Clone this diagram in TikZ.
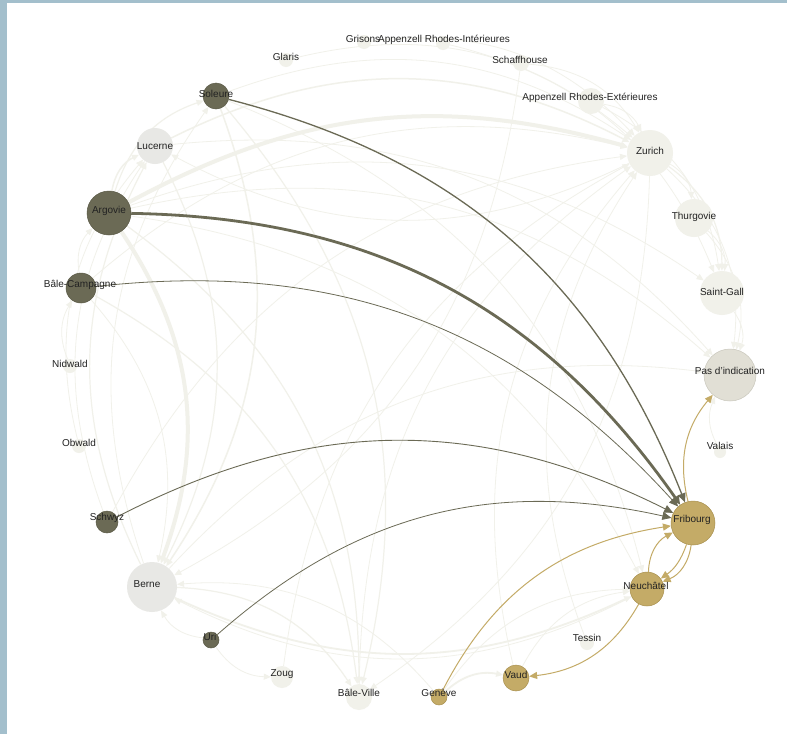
\documentclass[tikz,border=0pt]{standalone}
\usepackage{fontspec}
\setmainfont{Liberation Sans}
\usetikzlibrary{arrows.meta}
\definecolor{frame}{HTML}{A3BFCC}
\definecolor{dark}{HTML}{6B6A55}
\definecolor{darkline}{HTML}{5A5946}
\definecolor{gold}{HTML}{C4AB67}
\definecolor{goldline}{HTML}{A8904F}
\definecolor{faint}{HTML}{F1F1EA}
\definecolor{pale}{HTML}{F1F1EA}
\definecolor{grayn}{HTML}{E8E8E5}
\definecolor{pdicol}{HTML}{E1DFD5}
\definecolor{pdiline}{HTML}{C9C7BC}
\definecolor{labelcol}{HTML}{222222}
\pgfdeclarelayer{bottom}
\pgfdeclarelayer{links}
\pgfdeclarelayer{top}
\pgfsetlayers{bottom,links,main,top}
\tikzset{
  cnode/.style={circle, inner sep=0pt, minimum size=#1},
  dnode/.style={cnode=#1, fill=dark, draw=darkline, line width=0.5pt},
  gnode/.style={cnode=#1, fill=gold, draw=goldline, line width=0.5pt},
  lnode/.style={cnode=#1, fill=grayn},
  pnode/.style={cnode=#1, fill=pale},
  lab/.style={font=\fontsize{10}{12}\selectfont, text=labelcol, inner sep=0pt},
  flink/.style={draw=faint, line width=#1, -{Triangle[length=7pt,width=6pt]}},
  dlink/.style={draw=dark, line width=#1, -{Triangle[length=9pt,width=8pt]}},
  glink/.style={draw=gold, line width=#1, -{Triangle[length=8pt,width=7pt]}},
}
\begin{document}
\begin{tikzpicture}[x=1pt,y=-1pt]
\begin{pgfonlayer}{bottom}
\fill[frame] (0,0) rectangle (787,734);
\fill[white] (7,3) rectangle (787,734);
\end{pgfonlayer}
\useasboundingbox (0,0) rectangle (787,734);
% nodes
\node[pnode=14] (gri) at (364,42) {};
\node[pnode=14] (ari) at (443,43) {};
\node[pnode=14] (gla) at (286,60) {};
\node[pnode=16] (sch) at (521,63) {};
\node[pnode=26] (are) at (591,101) {};
\node[pnode=46] (zur) at (650,153) {};
\node[pnode=38] (thu) at (694,218) {};
\node[pnode=44] (sga) at (722,293) {};
\node[cnode=52, fill=pdicol, draw=pdiline, line width=0.5pt] (pdi) at (730,375) {};
\node[pnode=12] (val) at (720,452) {};
\node[gnode=44] (fri) at (693,523) {};
\node[gnode=34] (neu) at (647,589) {};
\node[pnode=14] (tes) at (587,643) {};
\node[gnode=26] (vau) at (516,678) {};
\node[gnode=16] (gen) at (439,697) {};
\node[pnode=26] (bvi) at (359,697) {};
\node[pnode=22] (zou) at (282,677) {};
\node[dnode=16] (uri) at (211,640) {};
\node[lnode=50] (ber) at (152,587) {};
\node[dnode=22] (szw) at (107,522) {};
\node[pnode=14] (obw) at (79,446) {};
\node[pnode=14] (nid) at (70,366) {};
\node[dnode=30] (bca) at (81,288) {};
\node[dnode=44] (arg) at (109,213) {};
\node[lnode=36] (luc) at (155,146) {};
\node[dnode=26] (sol) at (216,96) {};
% faint links
\begin{pgfonlayer}{links}
\draw[flink=4] (arg) to[bend left=22] (zur);
\draw[flink=4] (arg) to[bend left=27] (ber);
\draw[flink=1.5] (arg) to[bend left=27] (luc);
\draw[flink=1.2] (arg) to[bend left=27] (sol);
\draw[flink=1.2] (arg) to[bend left=27] (bvi);
\draw[flink=0.8] (arg) to[bend left=27] (sga);
\draw[flink=0.8] (arg) to[bend left=27] (pdi);
\draw[flink=0.8] (arg) to[bend left=27] (neu);
\draw[flink=1.5] (luc) to[bend left=27] (zur);
\draw[flink=1.2] (luc) to[bend left=27] (ber);
\draw[flink=0.8] (luc) to[bend left=27] (pdi);
\draw[flink=1.5] (sol) to[bend left=27] (ber);
\draw[flink=0.8] (sol) to[bend left=27] (zur);
\draw[flink=1.2] (sol) to[bend left=27] (bvi);
\draw[flink=0.8] (sol) to[bend left=27] (neu);
\draw[flink=1.2] (bca) to[bend left=27] (bvi);
\draw[flink=0.8] (bca) to[bend left=27] (ber);
\draw[flink=0.8] (bca) to[bend left=27] (zur);
\draw[flink=0.8] (bca) to[bend left=27] (arg);
\draw[flink=0.8] (szw) to[bend left=27] (zur);
\draw[flink=0.8] (szw) to[bend left=27] (luc);
\draw[flink=0.8] (obw) to[bend left=27] (luc);
\draw[flink=0.8] (nid) to[bend left=27] (bca);
\draw[flink=1.2] (ber) to[bend left=27] (bvi);
\draw[flink=0.8] (ber) to[bend left=27] (pdi);
\draw[flink=0.8] (ber) to[bend left=27] (sol);
\draw[flink=1.2] (ber) to[bend left=27] (luc);
\draw[flink=1.8] (ber) to[bend left=-25] (neu);
\draw[flink=0.8] (uri) to[bend left=27] (ber);
\draw[flink=0.8] (uri) to[bend left=-27] (zou);
\draw[flink=0.8] (zou) to[bend left=27] (zur);
\draw[flink=0.8] (zur) to[bend left=27] (thu);
\draw[flink=1.2] (zur) to[bend left=27] (sga);
\draw[flink=0.8] (zur) to[bend left=27] (pdi);
\draw[flink=0.8] (zur) to[bend left=27] (bvi);
\draw[flink=0.8] (zur) to[bend left=27] (luc);
\draw[flink=0.8] (thu) to[bend left=27] (sga);
\draw[flink=0.8] (sga) to[bend left=27] (pdi);
\draw[flink=0.8] (thu) to[bend left=27] (pdi);
\draw[flink=0.8] (are) to[bend left=27] (zur);
\draw[flink=0.8] (are) to[bend left=27] (sga);
\draw[flink=0.8] (sch) to[bend left=27] (zur);
\draw[flink=0.8] (sch) to[bend left=27] (ber);
\draw[flink=0.8] (gri) to[bend left=27] (zur);
\draw[flink=0.8] (gla) to[bend left=27] (zur);
\draw[flink=0.8] (ari) to[bend left=27] (sga);
\draw[flink=1.8] (gen) to[bend left=27] (vau);
\draw[flink=0.8] (gen) to[bend left=27] (neu);
\draw[flink=0.8] (gen) to[bend left=-27] (ber);
\draw[flink=0.8] (vau) to[bend left=27] (neu);
\draw[flink=0.8] (vau) to[bend left=27] (zur);
\draw[flink=0.8] (val) to[bend left=27] (pdi);
\draw[flink=0.8] (tes) to[bend left=27] (zur);
\draw[flink=0.8] (neu) to[bend left=27] (ber);
\draw[flink=0.8] (bvi) to[bend left=27] (zur);
\end{pgfonlayer}
% strong links
\draw[dlink=1.3] (sol) to[bend left=27] (fri);
\draw[dlink=2.8] (arg) to[bend left=27] (fri);
\draw[dlink=0.8] (bca) to[bend left=27] (fri);
\draw[dlink=0.9] (szw) to[bend left=27] (fri);
\draw[dlink=0.8] (uri) to[bend left=27] (fri);
\draw[glink=1] (fri) to[bend left=27] (pdi);
\draw[glink=1] (gen) to[bend left=27] (fri);
\draw[glink=1] (neu) to[bend left=30] (fri);
\draw[glink=1] (fri) to[bend left=30] (neu);
\draw[glink=1] (fri) to[bend left=18] (neu);
\draw[glink=1] (neu) to[bend left=27] (vau);
% labels
\begin{pgfonlayer}{top}
\node[lab] (lgri) at (363,39) {Grisons};
\node[lab] (lari) at (444,40) {Appenzell Rhodes-Intérieures};
\node[lab] (lgla) at (286,57) {Glaris};
\node[lab] (lsch) at (520,60) {Schaffhouse};
\node[lab] (lare) at (590,98) {Appenzell Rhodes-Extérieures};
\node[lab] (lzur) at (650,151) {Zurich};
\node[lab] (lthu) at (694,217) {Thurgovie};
\node[lab] (lsga) at (722,292) {Saint-Gall};
\node[lab] (lpdi) at (730,371) {Pas d'indication};
\node[lab] (lval) at (720,446) {Valais};
\node[lab] (lfri) at (692,520) {Fribourg};
\node[lab] (lneu) at (646,586) {Neuchâtel};
\node[lab] (ltes) at (587,638) {Tessin};
\node[lab] (lvau) at (516,675) {Vaud};
\node[lab] (lgen) at (439,693) {Genève};
\node[lab] (lbvi) at (359,693) {Bâle-Ville};
\node[lab] (lzou) at (282,674) {Zoug};
\node[lab] (luri) at (210,637) {Uri};
\node[lab] (lber) at (147,584) {Berne};
\node[lab] (lszw) at (107,518) {Schwyz};
\node[lab] (lobw) at (79,443) {Obwald};
\node[lab] (lnid) at (70,364) {Nidwald};
\node[lab] (lbca) at (80,285) {Bâle-Campagne};
\node[lab] (larg) at (109,211) {Argovie};
\node[lab] (lluc) at (155,146) {Lucerne};
\node[lab] (lsol) at (216,94) {Soleure};
\end{pgfonlayer}
\end{tikzpicture}
\end{document}
